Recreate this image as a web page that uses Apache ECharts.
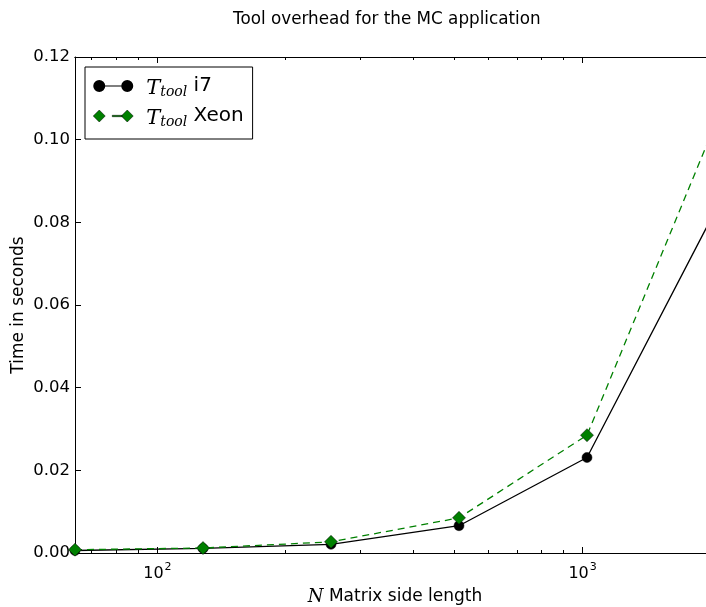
<!DOCTYPE html>
<html>
<head>
<meta charset="utf-8">
<script src="https://cdn.jsdelivr.net/npm/echarts@6/dist/echarts.min.js"></script>
<style>
  html, body { margin: 0; padding: 0; overflow: hidden; background: #fff; }
  #chart { width: 706px; height: 607px; }
</style>
</head>
<body>
<div id="chart"></div>
<script>
// Matrix side lengths (N) and measured tool overhead in seconds
const sizes = [64, 128, 256, 512, 1024, 2048];
const overheadI7 = [0.0006, 0.0011, 0.0021, 0.0066, 0.0231, 0.0827];
const overheadXeon = [0.0008, 0.0012, 0.0027, 0.0085, 0.0285, 0.1036];
const seriesNames = ['i7', 'Xeon'];

// Tick positions on the log axis
const majorTicks = [100, 1000];
const minorTicks = [70, 80, 90, 200, 300, 400, 500, 600, 700, 800, 900, 2000];

const serif = '"DejaVu Serif", serif';
const sans = '"DejaVu Sans", sans-serif';

const chart = echarts.init(document.getElementById('chart'), null, { renderer: 'canvas' });

function logAxis(position, ticks, length, withLabels) {
  return {
    type: 'log',
    logBase: 10,
    min: 64,
    max: 2048,
    position: position,
    axisLine: { show: true, onZero: false, lineStyle: { color: '#000', width: 1 } },
    axisTick: { show: true, inside: true, length: length, customValues: ticks,
      lineStyle: { color: '#000', width: 1 } },
    minorTick: { show: false },
    splitLine: { show: false },
    axisLabel: withLabels ? {
      show: true,
      customValues: ticks,
      margin: 9,
      formatter: function (v) {
        return '{b|10}{p|' + Math.round(Math.log10(v)) + '}';
      },
      rich: {
        b: { fontFamily: sans, fontSize: 16, color: '#000', verticalAlign: 'bottom', lineHeight: 20 },
        p: { fontFamily: sans, fontSize: 11, color: '#000', verticalAlign: 'top', lineHeight: 20, padding: [0, 0, 10, 1] }
      }
    } : { show: false }
  };
}

const xAxes = [
  Object.assign(logAxis('bottom', majorTicks, 6, true), {
    name: '{n|N} Matrix side length',
    nameLocation: 'middle',
    nameGap: 34,
    nameTextStyle: {
      fontFamily: sans, fontSize: 17, color: '#000',
      rich: { n: { fontFamily: serif, fontStyle: 'italic', fontSize: 18, color: '#000' } }
    }
  }),
  logAxis('bottom', minorTicks, 3, false),
  logAxis('top', majorTicks, 6, false),
  logAxis('top', minorTicks, 3, false)
];

const option = {
  backgroundColor: '#fff',
  animation: false,
  title: {
    text: 'Tool overhead for the MC application',
    left: 228,
    top: 6,
    textStyle: { fontFamily: sans, fontSize: 16.8, fontWeight: 'normal', color: '#000' }
  },
  // the plot box runs past the right edge of the canvas
  grid: { left: 75, right: -9, top: 57, bottom: 54, containLabel: false, outerBoundsMode: 'none' },
  legend: {
    orient: 'vertical',
    left: 85,
    top: 67,
    padding: [9, 9, 10, 8],
    itemGap: 7,
    itemWidth: 40,
    itemHeight: 12,
    borderColor: '#000',
    borderWidth: 1,
    borderRadius: 0,
    data: [
      {
        name: seriesNames[0],
        icon: 'path://M0,6A6,6 0 1,1 12,6A6,6 0 1,1 0,6Z M28,6A6,6 0 1,1 40,6A6,6 0 1,1 28,6Z M6,5.4h28v1.2h-28Z',
        itemStyle: { color: '#000', borderWidth: 0 }
      },
      {
        name: seriesNames[1],
        icon: 'path://M0,6L6,0L12,6L6,12Z M28,6L34,0L40,6L34,12Z M19,5.3h10v1.4h-10Z',
        itemStyle: { color: '#008000', borderColor: '#000', borderWidth: 0.5 }
      }
    ],
    formatter: function (name) {
      return '{m|T}{s|tool} ' + name;
    },
    textStyle: {
      fontFamily: sans, fontSize: 20, color: '#000', padding: [0, 0, 0, 8],
      rich: {
        m: { fontFamily: serif, fontStyle: 'italic', fontSize: 21, color: '#000', verticalAlign: 'bottom', lineHeight: 26 },
        s: { fontFamily: serif, fontStyle: 'italic', fontSize: 14, color: '#000', verticalAlign: 'bottom', lineHeight: 22, padding: [0, 0, 0, 0] }
      }
    }
  },
  xAxis: xAxes,
  yAxis: {
    type: 'value',
    min: 0,
    max: 0.12,
    interval: 0.02,
    name: 'Time in seconds',
    nameLocation: 'middle',
    nameGap: 48,
    nameMoveOverlap: false,
    nameRotate: 90,
    nameTextStyle: { fontFamily: sans, fontSize: 17, color: '#000' },
    axisLine: { show: true, onZero: false, lineStyle: { color: '#000', width: 1 } },
    axisTick: { show: true, inside: true, length: 6, lineStyle: { color: '#000', width: 1 } },
    splitLine: { show: false },
    axisLabel: {
      fontFamily: sans, fontSize: 16.5, color: '#000', margin: 5,
      formatter: function (v) { return v.toFixed(2); }
    }
  },
  series: [
    {
      name: seriesNames[0],
      type: 'line',
      xAxisIndex: 0,
      data: sizes.map((n, i) => [n, overheadI7[i]]),
      symbol: 'circle',
      symbolSize: 10,
      showAllSymbol: true,
      lineStyle: { color: '#000', width: 1.3 },
      itemStyle: { color: '#000', borderColor: '#000', borderWidth: 0.5 },
      emphasis: { disabled: true }
    },
    {
      name: seriesNames[1],
      type: 'line',
      xAxisIndex: 0,
      data: sizes.map((n, i) => [n, overheadXeon[i]]),
      symbol: 'diamond',
      symbolSize: 13,
      showAllSymbol: true,
      lineStyle: { color: '#008000', width: 1.3, type: [7, 5] },
      itemStyle: { color: '#008000', borderColor: '#000', borderWidth: 0.5 },
      emphasis: { disabled: true }
    }
  ]
};

chart.setOption(option);
</script>
</body>
</html>
